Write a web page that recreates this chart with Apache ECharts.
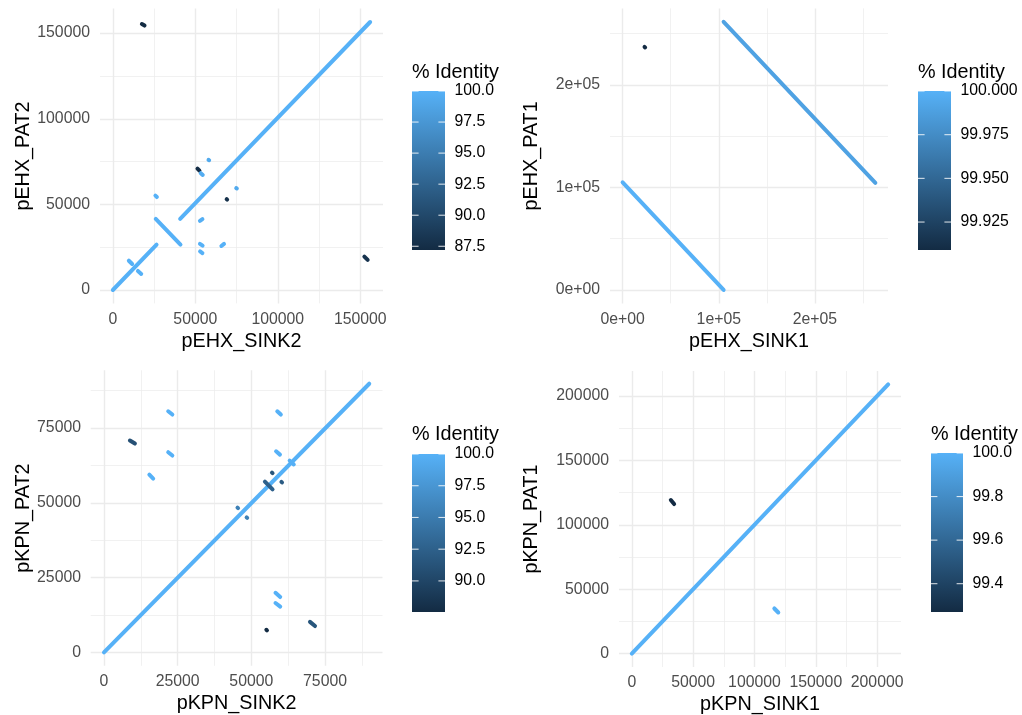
<!DOCTYPE html>
<html><head><meta charset="utf-8">
<script src="https://cdn.jsdelivr.net/npm/echarts@6/dist/echarts.min.js"></script>
<style>html,body{margin:0;padding:0;background:#fff}#chart{width:1022px;height:715px}</style>
</head><body><div id="chart"></div>
<script>
// ---------------- DATA ----------------
// Segments: [x start, y start, x end, y end, % identity]
const p1XName = 'pEHX_SINK2', p1YName = 'pEHX_PAT2';
const p1Segments = [
  [0, 0, 26500, 26500, 100],
  [26000, 41500, 41000, 26500, 100],
  [40800, 41500, 156000, 156500, 100],
  [9700, 17100, 11700, 15200, 100],
  [15200, 11100, 17200, 9400, 100],
  [17600, 155300, 19200, 154400, 87.2],
  [152500, 19500, 154500, 17600, 88.0],
  [51300, 70900, 52500, 69700, 87.5],
  [53300, 68200, 54500, 67200, 99.6],
  [58000, 76000, 58400, 75800, 99.3],
  [74800, 59500, 75200, 59300, 99.3],
  [69000, 53100, 69300, 52800, 87.8],
  [25800, 55100, 26700, 54300, 100],
  [52800, 40400, 54300, 41400, 99.8],
  [52800, 26900, 54400, 25900, 100],
  [52900, 22500, 54300, 21500, 100],
  [65800, 25700, 67400, 26900, 100]
];
const p1XMajor = [0, 50000, 100000, 150000];
const p1XMinor = [25000, 75000, 125000];
const p1YMajor = [0, 50000, 100000, 150000];
const p1YMinor = [25000, 75000, 125000];
const p1LegendTicks = [87.5, 90, 92.5, 95, 97.5, 100];

const p2XName = 'pEHX_SINK1', p2YName = 'pEHX_PAT1';
const p2Segments = [
  [0, 105000, 105000, 0, 100],
  [105000, 261400, 262800, 104500, 99.99],
  [22800, 236900, 23400, 236400, 99.909]
];
const p2XMajor = [0, 100000, 200000];
const p2XMinor = [50000, 150000, 250000];
const p2YMajor = [0, 100000, 200000];
const p2YMinor = [50000, 150000, 250000];
const p2LegendTicks = [99.925, 99.95, 99.975, 100];

const p3XName = 'pKPN_SINK2', p3YName = 'pKPN_PAT2';
const p3Segments = [
  [0, 0, 90000, 89800, 100],
  [21800, 80600, 23200, 79500, 100],
  [58800, 80600, 60000, 79500, 100],
  [8800, 70800, 10500, 69800, 91.0],
  [21800, 66900, 23200, 65800, 100],
  [58400, 67200, 59700, 66100, 100],
  [15400, 59400, 16700, 58100, 100],
  [63000, 64100, 64400, 62800, 99.9],
  [57000, 60100, 57200, 59900, 91.5],
  [54600, 57100, 57200, 54500, 92.5],
  [60200, 57000, 60400, 56800, 92.0],
  [45300, 48400, 45500, 48200, 95.5],
  [48400, 45150, 48600, 44950, 95.5],
  [55100, 7560, 55300, 7360, 87.55],
  [58200, 19900, 59800, 18500, 100],
  [58200, 16500, 59800, 15300, 100],
  [69900, 10200, 71600, 8800, 91.5]
];
const p3XMajor = [0, 25000, 50000, 75000];
const p3XMinor = [12500, 37500, 62500, 87500];
const p3YMajor = [0, 25000, 50000, 75000];
const p3YMinor = [12500, 37500, 62500, 87500];
const p3LegendTicks = [90, 92.5, 95, 97.5, 100];

const p4XName = 'pKPN_SINK1', p4YName = 'pKPN_PAT1';
const p4Segments = [
  [0, 0, 209000, 209000, 100],
  [31800, 119200, 34500, 116100, 99.27],
  [116200, 35000, 119400, 31900, 100]
];
const p4XMajor = [0, 50000, 100000, 150000, 200000];
const p4XMinor = [25000, 75000, 125000, 175000];
const p4YMajor = [0, 50000, 100000, 150000, 200000];
const p4YMinor = [25000, 75000, 125000, 175000];
const p4LegendTicks = [99.4, 99.6, 99.8, 100];

const legendTitle = '% Identity';

// ---------------- STYLE / LAYOUT ----------------
const FONT = '"Liberation Sans", Arial, Helvetica, sans-serif';
const LOW = '#132B43', HIGH = '#56B1F7';
const GRID_COLOR = '#EBEBEB';
const TICK_SIZE = 15.8, TITLE_SIZE = 19.8;

function plainFmt(v) { return String(Math.round(v)); }
function sciFmt(v) {
  if (v === 0) return '0e+00';
  const e = Math.floor(Math.log10(Math.abs(v)) + 1e-9);
  const m = Math.round(v / Math.pow(10, e) * 100) / 100;
  return m + 'e' + (e < 0 ? '-' : '+') + String(Math.abs(e)).padStart(2, '0');
}

const panels = [
  { xName: p1XName, yName: p1YName, seg: p1Segments, xMaj: p1XMajor, xMin: p1XMinor, yMaj: p1YMajor, yMin: p1YMinor,
    leg: p1LegendTicks, digits: 1, fmt: plainFmt,
    plot: { left: 100, top: 8.6, width: 283, height: 294.8 }, yNameGap: 66, yLabelMargin: 10,
    bar: { left: 412, top: 91, width: 33, height: 159 }, title: { left: 412, top: 63 } },
  { xName: p2XName, yName: p2YName, seg: p2Segments, xMaj: p2XMajor, xMin: p2XMinor, yMaj: p2YMajor, yMin: p2YMinor,
    leg: p2LegendTicks, digits: 3, fmt: sciFmt,
    plot: { left: 610, top: 8.4, width: 278, height: 295 }, yNameGap: 68, yLabelMargin: 10,
    bar: { left: 918, top: 91, width: 33, height: 159 }, title: { left: 918, top: 63 } },
  { xName: p3XName, yName: p3YName, seg: p3Segments, xMaj: p3XMajor, xMin: p3XMinor, yMaj: p3YMajor, yMin: p3YMinor,
    leg: p3LegendTicks, digits: 1, fmt: plainFmt,
    plot: { left: 90.7, top: 370.3, width: 291.8, height: 295.5 }, yNameGap: 56.7, yLabelMargin: 9.7,
    bar: { left: 412, top: 454, width: 33, height: 158 }, title: { left: 412, top: 425 } },
  { xName: p4XName, yName: p4YName, seg: p4Segments, xMaj: p4XMajor, xMin: p4XMinor, yMaj: p4YMajor, yMin: p4YMinor,
    leg: p4LegendTicks, digits: 1, fmt: plainFmt,
    plot: { left: 619, top: 371, width: 282, height: 296 }, yNameGap: 77, yLabelMargin: 10,
    bar: { left: 931, top: 453, width: 32, height: 159 }, title: { left: 931, top: 425 } }
];

function expanded(vals) {
  const lo = Math.min(...vals), hi = Math.max(...vals), pad = (hi - lo) * 0.05;
  return [lo - pad, hi + pad];
}

function majorAxis(position, gridIndex, range, ticks, fmt, name, nameGap, margin) {
  return {
    type: 'value', gridIndex, position, min: range[0], max: range[1], scale: true,
    name, nameLocation: 'middle', nameGap, nameMoveOverlap: false,
    nameTextStyle: { fontSize: TITLE_SIZE, color: '#000', fontFamily: FONT },
    axisLine: { show: false, onZero: false },
    axisTick: { show: false, customValues: ticks },
    axisLabel: { show: true, customValues: ticks, formatter: fmt, margin, fontSize: TICK_SIZE, color: '#4D4D4D', fontFamily: FONT, hideOverlap: false },
    splitLine: { show: true, lineStyle: { color: GRID_COLOR, width: 1.4 } },
    minorTick: { show: false }, minorSplitLine: { show: false }
  };
}
function minorAxis(position, gridIndex, range, ticks) {
  return {
    type: 'value', gridIndex, position, min: range[0], max: range[1], scale: true,
    axisLine: { show: false, onZero: false },
    axisTick: { show: false, customValues: ticks },
    axisLabel: { show: false, customValues: ticks },
    splitLine: { show: true, lineStyle: { color: GRID_COLOR, width: 0.7 } }
  };
}
function legendAxis(position, gridIndex, range, ticks, digits) {
  return {
    type: 'value', gridIndex, position, min: range[0], max: range[1], scale: true,
    axisLine: { show: false, onZero: false },
    axisTick: { show: false, customValues: ticks },
    axisLabel: { show: true, customValues: ticks, formatter: v => v.toFixed(digits), margin: 9.5, fontSize: TICK_SIZE, color: '#000', fontFamily: FONT, hideOverlap: false },
    splitLine: { show: false }
  };
}

function renderSegment(params, api) {
  const a = api.coord([api.value(0), api.value(1)]);
  const b = api.coord([api.value(2), api.value(3)]);
  return { type: 'line', shape: { x1: a[0], y1: a[1], x2: b[0], y2: b[1] },
    style: { stroke: api.visual('color'), lineWidth: 4, lineCap: 'round', fill: null } };
}
function makeBarRenderer(ticks) {
  return function (params, api) {
    const tl = api.coord([api.value(0), api.value(3)]);
    const br = api.coord([api.value(2), api.value(1)]);
    const children = [{ type: 'rect', shape: { x: tl[0], y: tl[1], width: br[0] - tl[0], height: br[1] - tl[1] },
      style: { fill: new echarts.graphic.LinearGradient(0, 0, 0, 1, [{ offset: 0, color: HIGH }, { offset: 1, color: LOW }]) } }];
    const tickLen = (br[0] - tl[0]) / 5;
    ticks.forEach(t => {
      const y = api.coord([0, t])[1];
      children.push({ type: 'line', shape: { x1: tl[0], y1: y, x2: tl[0] + tickLen, y2: y }, style: { stroke: 'rgba(255,255,255,0.8)', lineWidth: 1.1 } });
      children.push({ type: 'line', shape: { x1: br[0] - tickLen, y1: y, x2: br[0], y2: y }, style: { stroke: 'rgba(255,255,255,0.8)', lineWidth: 1.1 } });
    });
    return { type: 'group', children };
  };
}

const option = { animation: false, backgroundColor: '#fff', textStyle: { fontFamily: FONT },
  title: [], grid: [], xAxis: [], yAxis: [], visualMap: [], series: [] };

panels.forEach(p => {
  const gMain = option.grid.length;
  option.grid.push(Object.assign({ containLabel: false, outerBoundsMode: 'none', show: false }, p.plot));
  const gLeg = option.grid.length;
  option.grid.push(Object.assign({ containLabel: false, outerBoundsMode: 'none', show: false }, p.bar));

  const xr = expanded(p.seg.flatMap(s => [s[0], s[2]]));
  const yr = expanded(p.seg.flatMap(s => [s[1], s[3]]));
  const ids = p.seg.map(s => s[4]);
  const idr = [Math.min(...ids), Math.max(...ids)];

  const xMajIdx = option.xAxis.length;
  option.xAxis.push(majorAxis('bottom', gMain, xr, p.xMaj, p.fmt, p.xName, 28, 8));
  option.xAxis.push(minorAxis('top', gMain, xr, p.xMin));
  const xLegIdx = option.xAxis.length;
  option.xAxis.push({ type: 'value', gridIndex: gLeg, min: 0, max: 1, show: false });

  const yMajIdx = option.yAxis.length;
  option.yAxis.push(majorAxis('left', gMain, yr, p.yMaj, p.fmt, p.yName, p.yNameGap, p.yLabelMargin));
  option.yAxis.push(minorAxis('right', gMain, yr, p.yMin));
  const yLegIdx = option.yAxis.length;
  option.yAxis.push(legendAxis('right', gLeg, idr, p.leg, p.digits));

  const sIdx = option.series.length;
  option.series.push({ type: 'custom', xAxisIndex: xMajIdx, yAxisIndex: yMajIdx, silent: true, z: 2,
    dimensions: ['x1', 'y1', 'x2', 'y2', 'identity'], encode: { x: [0, 2], y: [1, 3] },
    data: p.seg, renderItem: renderSegment });
  option.visualMap.push({ type: 'continuous', show: false, seriesIndex: sIdx, dimension: 4,
    min: idr[0], max: idr[1], inRange: { color: [LOW, HIGH] } });
  option.series.push({ type: 'custom', xAxisIndex: xLegIdx, yAxisIndex: yLegIdx, silent: true, z: 1,
    data: [[0, idr[0], 1, idr[1]]], renderItem: makeBarRenderer(p.leg) });

  option.title.push({ text: legendTitle, left: p.title.left, top: p.title.top, padding: 0,
    textStyle: { fontSize: TITLE_SIZE, fontWeight: 'normal', color: '#000', fontFamily: FONT } });
});

const chart = echarts.init(document.getElementById('chart'), null, { renderer: 'canvas' });
chart.setOption(option);
</script></body></html>
